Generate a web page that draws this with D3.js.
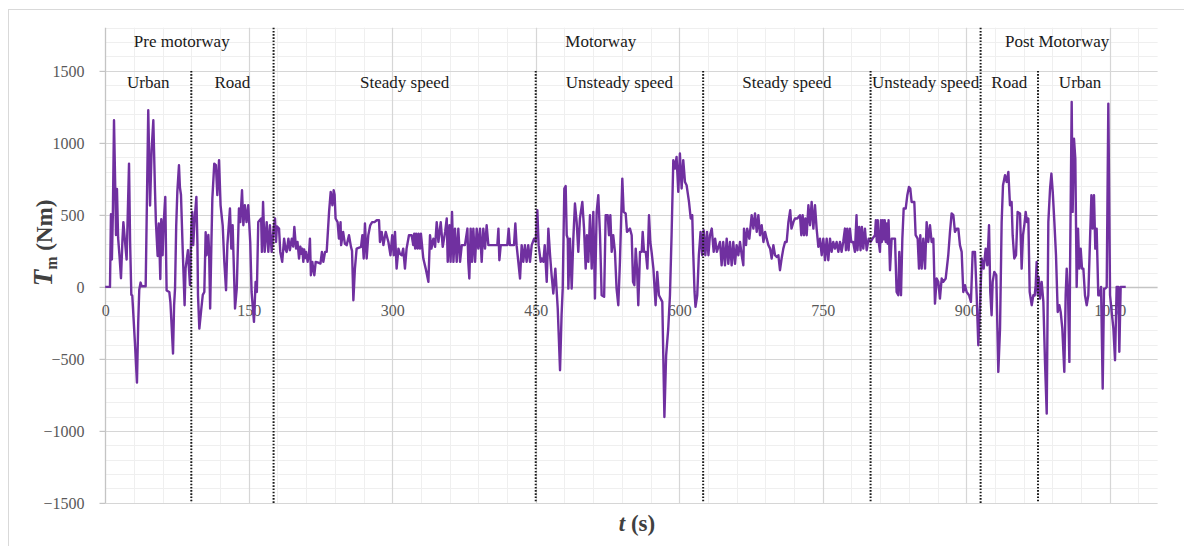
<!DOCTYPE html>
<html>
<head>
<meta charset="utf-8">
<script src="https://cdn.jsdelivr.net/npm/d3@7"></script>
<style>
  body { margin: 0; background: #fff; }
  svg { display: block; }
</style>
</head>
<body>
<svg id="chart" width="1184" height="546"></svg>
<script>
// Motor torque T_m (Nm) against time t (s), one [t, Tm] array per driving phase.
const urbanPre = [[0,0],[5,0],[6,505],[7,190],[8,505],[9.2,1157],[10.5,690],[11.3,360],[12.3,680],[13.5,340],[15,210],[16.5,60],[18,320],[19,450],[20.5,330],[22.4,190],[24.9,856],[26,320],[27.3,-55],[28.3,-60],[28.9,-130],[31,-380],[33.2,-665],[34.5,-250],[35.6,-20],[37,30],[38,5],[42.3,5],[45,1227],[46.9,565],[48.5,950],[50.3,1157],[52,680],[53,450],[54.8,215],[56,440],[57.6,55],[58.6,470],[60,220],[61,430],[62.8,625],[63.6,230],[64.2,-25],[67,-35],[68.2,-110],[70.9,-463],[72,-130],[73,-10],[74.2,420],[75.4,660],[77.1,845],[78.1,690],[79.2,640],[81,260],[83,-127],[84,127],[86.5,255],[87.5,130],[88.6,12],[90,400]];

const roadPre = [[91,520],[92,290],[93.3,450],[95.3,625],[96.4,300],[97,-58],[98.4,-290],[100.5,-150],[102,-55],[103.6,-35],[105,380],[106,220],[107.8,360],[108.6,250],[109.7,-150],[111,300],[112,613],[114,856],[115.7,845],[117.2,637],[119,880],[120.6,567],[122.8,428],[124.5,174],[126.3,-23],[127.7,290],[130.4,544],[131.8,266],[133.2,428],[135.7,-150],[137.5,-12],[139.8,544],[141.2,450],[143,671],[144.4,428],[146,567],[147.7,450],[149.5,567],[151.6,312],[153,-35],[155.5,-243],[157.2,35],[158.5,-35],[160,450],[163,475],[163.8,243],[165,590],[166.7,243],[168.8,450],[170.5,243],[172.2,428],[174,243],[176,405]];

const steadyA = [[177.5,475],[178.5,312],[179.5,420],[181.7,405],[183,243],[185,174],[187,335],[188.5,260],[189.7,243],[191.5,335],[193,255],[195,335],[196.5,280],[197.7,417],[199.5,266],[201,312],[202.6,197],[204,280],[205,230],[206,266],[207.1,174],[208,260],[209,200],[210,243],[211.6,174],[213,230],[214,335],[215,81],[216.5,174],[217.5,120],[218.6,81],[220,174],[222,170],[225,162],[226.5,243],[228,174],[229.8,243],[231.5,243],[234,521],[235.7,660],[237.5,567],[238.8,671],[239.8,640],[240.8,475],[242.9,450],[244.3,335],[246,450],[246.6,290],[248.7,382],[250.5,300],[252.4,290],[254.8,359],[256.9,278],[258,250],[259.4,-93],[261,127],[262.8,266],[267.4,278],[268.8,359],[270.2,197],[271.5,440],[273.3,197],[275,359],[277,428],[279,450],[281.5,450],[283.8,463],[286.2,463],[287.2,312],[289,382],[290.8,290],[293.2,382],[296,312],[298.2,220],[300,359],[301.6,220],[302.9,382],[304.6,127],[306.5,266],[308,230],[310,220],[311.5,266],[313.3,127],[315,266],[317.5,359],[320.3,359],[322,290],[323,370],[324,266],[325,370],[326.5,266],[327.5,370],[329,266],[330,370],[331,300],[332.5,197],[335,127],[337.8,35],[339.5,359],[341,266],[343,335],[344.8,278],[346.5,450],[348.3,312],[350.7,450],[352.8,278],[355.3,382],[357,475],[358,174],[359.8,428],[361,174],[362.5,521],[364,174],[365.6,405],[367.4,174],[369.1,405],[370.9,174],[372.7,290],[376,290],[378.6,405],[379.5,174],[380.6,58],[382,405],[383.4,174],[384.8,405],[386.6,174],[388.3,405],[390,266],[391.8,405],[393.5,174],[395.2,405],[397,266],[398.7,428],[400.5,290],[409.9,290],[411,405],[412,185],[413.4,290],[420.3,290],[421.7,405],[423,290],[427.3,290],[428.7,440],[430,290],[431.8,174],[433.6,58],[435.3,290],[437,174],[438.7,290],[440.5,174],[442.2,290],[444,174],[445.8,290],[448.3,335],[450,312]];

const unsteadyA = [[451.7,532],[453,290],[455.2,174],[456.5,197],[458,174],[459.4,290],[461.5,35],[463.2,405],[465,220],[466.6,81],[468.4,-46],[470.5,127],[473,-150],[475.4,-579],[477,-197],[478.2,-12],[479.9,683],[481.3,700],[482.4,359],[483.5,335],[484.1,-12],[485.8,335],[487.6,-12],[489.3,335],[491,579],[492.8,450],[494.5,243],[496.2,475],[498.7,590],[500.5,405],[502.2,127],[503.5,359],[505,174],[506.7,498],[508.5,127],[510.2,521],[511.9,-81],[513.7,521],[515.4,637],[517.2,359],[518.9,-58],[521.5,-69],[523.1,498],[525.2,498],[526.6,359],[528,498],[529.4,243],[531,359],[532.8,243],[534.5,-12],[536.3,-127],[538,174],[540.5,752],[541.9,521],[544,510],[545.4,382],[548.5,405],[550.3,359],[551.7,35],[553.1,12],[554.5,266],[555.9,127],[557.2,-127],[559,243],[560.8,243],[561.8,382],[563.2,243],[565,243],[566.7,127],[568.4,498],[569.8,312],[571.1,243],[573,127],[575.3,-127],[577,104],[578.8,-58],[582.3,-104],[584.5,-903],[586.3,-475],[588.5,-290],[590.3,-58],[592,359],[593.8,880],[595.5,822],[597.2,903],[599,660],[600.7,926],[602.5,683],[604.2,880],[606,729],[607.7,706],[610.2,590],[612,475],[613.6,498],[614.6,243],[616,-35],[617,-139],[618.8,-58],[620.5,220],[622.3,382],[624,220],[625.5,394]];

const steadyB = [[627.3,220],[629,382],[630.5,220],[632.1,359],[634,405],[636,243],[637.5,335],[639.3,243],[642.6,312],[644.3,150],[646,312],[647.8,150],[649.6,335],[651.3,160],[653,312],[654.8,150],[656.5,312],[658.3,160],[660,290],[661.8,220],[663.5,312],[665.3,220],[667,150],[667.7,405],[669.8,290],[671,405],[673.3,335],[675.7,498],[677.5,405],[679.2,510],[681,382],[682.7,498],[684.4,359],[686.2,428],[688,312],[689.7,382],[691.4,335],[693.2,290],[695,266],[696.6,197],[698.4,290],[700.1,220],[701.9,208],[703.6,220],[705.3,116],[707,197],[708.8,266],[710.6,312],[712.3,312],[714.1,450],[716,532],[717.3,405],[719.3,450],[721,475],[723.4,475],[726.2,498],[727.6,359],[729,498],[730.4,359],[731.8,475],[733.2,359],[735,567],[736.7,428],[738.4,590],[740.2,405],[741.9,567],[743.6,405],[745.4,278],[747.1,335],[748.9,220],[750.6,335],[752.4,185],[754.1,335],[755.8,185],[757.6,335],[759.3,243],[761,312],[762.8,266],[764.5,312],[766.3,243],[768,312],[769.7,243],[771.4,312],[773.2,405],[774.2,255],[775.6,405],[777,255],[778.4,405],[779.8,312],[781.8,312],[783.6,243],[785.3,498],[786.3,255],[788.1,417],[789.5,255],[790.9,417],[792.4,266],[794.1,405],[795.9,255],[798,335],[800,312]];

const unsteadyB = [[802,335],[804.6,359],[805.5,463],[806.5,312],[807.5,463],[808.5,312],[809.8,243],[810.8,463],[811.8,312],[812.8,463],[813.8,330],[814.8,463],[815.8,312],[816.8,440],[817.8,300],[818.8,463],[819.5,300],[820.3,116],[822,335],[825.5,335],[827.2,-35],[829,-58],[830,243],[831.8,-58],[833.2,335],[834.6,544],[836.7,544],[838.4,637],[840.1,694],[841.5,683],[842.9,590],[845.7,590],[847.1,359],[849.2,335],[850.6,127],[852,359],[853.4,127],[855.1,335],[856.9,127],[858.6,450],[860.3,312],[862.1,428],[863.8,312],[865.6,335],[867.3,-116],[869.1,58],[870.8,35],[872.5,-81],[874.3,58],[876,35],[878.5,58],[881.2,220],[883,382],[884.7,510],[886.5,498],[888.2,382],[890,405],[891.7,405],[893.4,290],[895.2,243],[896.9,-35],[898.7,12],[900.4,-35],[902.9,-58],[904.9,-104],[906.7,243],[909.1,243],[910.9,-58],[912.6,-405],[914.3,-150]];

const roadPost = [[916.1,197],[918.2,127],[920.3,266],[922,150],[923.8,428],[925.1,-35],[926.5,-197],[927.6,35],[929.3,104],[931.4,81],[933.5,-590],[935.3,-290],[937,450],[938.4,706],[940.5,775],[942.2,729],[944,799],[945.7,567],[947.4,590],[948.5,359],[950.2,197],[952,220],[953.7,521],[956.2,510],[957.9,127],[959.3,359],[960.7,428],[962.1,521],[963.5,450],[964.9,475],[966.3,-35],[968.4,-127],[970.1,-58],[971.5,-60],[972.6,12],[973.6,174],[974.7,-58]];

const urbanPost = [[975.7,69],[977.1,-81],[978.8,35],[980.6,-104],[982.3,-521],[984.1,-880],[985.8,450],[987.6,683],[989,787],[990.4,660],[992.1,450],[993.8,220],[995.6,-174],[997.3,-127],[998.7,-174],[1000.4,-290],[1002.5,-590],[1003.9,-58],[1005,127],[1006.4,-58],[1007.8,-521],[1008.5,127],[1010.2,1285],[1011.2,521],[1012.6,1030],[1014,891],[1015.4,0],[1016.8,405],[1018.2,127],[1019.6,266],[1021,127],[1022.4,127],[1024.1,-58],[1025.9,-127],[1027.6,-58],[1029.4,335],[1030.8,637],[1032.2,405],[1033.5,637],[1034.9,266],[1036.3,405],[1038,-58],[1039.8,-58],[1040.9,0],[1042.6,-706],[1044,-12],[1045.4,-12],[1046.8,0],[1048.5,1273],[1050.3,-58],[1052,-174],[1053.8,-290],[1055.5,-509],[1057.2,0],[1059,0],[1060,-451],[1061.4,0],[1066.7,0]];

// Phase boundaries (s) and the dividers that run the full plot height.
const phaseEdges = [0, 90, 176, 450, 625, 800, 915, 975, 1063];
const fullHeightEdges = [176, 915];
const phaseNames = ["Urban", "Road", "Steady speed", "Unsteady speed", "Steady speed", "Unsteady speed", "Road", "Urban"];
const sectionNames = ["Pre motorway", "Motorway", "Post Motorway"];
const sectionLabelT = [80, 518, 995];

const xTicks = [0, 150, 300, 450, 600, 750, 900, 1050];
const yTicks = [-1500, -1000, -500, 0, 500, 1000, 1500];

const series = [].concat(urbanPre, roadPre, steadyA, unsteadyA, steadyB, unsteadyB, roadPost, urbanPost);

const svg = d3.select("#chart");
const serif = "'Liberation Serif', 'Times New Roman', serif";

const x = d3.scaleLinear().domain([0, 1100]).range([105.2, 1157.6]);
const y = d3.scaleLinear().domain([-1500, 1800]).range([502.9, 27.7]);
const [x0, x1] = x.range();
const [yBot, yTop] = y.range();

// outer frame
svg.append("rect")
  .attr("x", 8.5).attr("y", 9.5)
  .attr("width", 1300).attr("height", 700)
  .attr("fill", "none").attr("stroke", "#d9d9d9").attr("stroke-width", 1);

const grid = svg.append("g");

// minor grid
grid.selectAll("line.hmin")
  .data(d3.range(-1400, 1801, 100).filter(v => v % 500 !== 0))
  .join("line")
  .attr("x1", x0).attr("x2", x1)
  .attr("y1", d => Math.round(y(d)) + 0.5).attr("y2", d => Math.round(y(d)) + 0.5)
  .attr("stroke", "#efefef").attr("stroke-width", 1);

grid.selectAll("line.vmin")
  .data(d3.range(30, 1100, 30).filter(v => v % 150 !== 0))
  .join("line")
  .attr("x1", d => Math.round(x(d)) + 0.5).attr("x2", d => Math.round(x(d)) + 0.5)
  .attr("y1", yTop).attr("y2", yBot)
  .attr("stroke", "#efefef").attr("stroke-width", 1);

// major grid
grid.selectAll("line.vmaj")
  .data(xTicks.filter(v => v > 0))
  .join("line")
  .attr("x1", d => Math.round(x(d)) + 0.5).attr("x2", d => Math.round(x(d)) + 0.5)
  .attr("y1", yTop).attr("y2", yBot)
  .attr("stroke", "#d6d6d6").attr("stroke-width", 1.2);

grid.selectAll("line.hmaj")
  .data(yTicks.filter(v => v !== 0))
  .join("line")
  .attr("x1", x0).attr("x2", x1)
  .attr("y1", d => Math.round(y(d)) + 0.5).attr("y2", d => Math.round(y(d)) + 0.5)
  .attr("stroke", "#d6d6d6").attr("stroke-width", 1.2);

// axis lines
grid.append("line")
  .attr("x1", Math.round(x0) + 0.5).attr("x2", Math.round(x0) + 0.5)
  .attr("y1", yTop).attr("y2", yBot)
  .attr("stroke", "#c4c4c4").attr("stroke-width", 1.3);
grid.append("line")
  .attr("x1", x0).attr("x2", x1)
  .attr("y1", Math.round(y(0)) + 0.5).attr("y2", Math.round(y(0)) + 0.5)
  .attr("stroke", "#c4c4c4").attr("stroke-width", 1.3);

// plain integers with a true minus sign, no thousands separator
const fmt = d => (d < 0 ? "\u2212" : "") + Math.abs(d);

// y axis ticks and labels
const yAxis = svg.append("g")
  .attr("transform", `translate(${Math.round(x0) + 0.5},0)`)
  .call(d3.axisLeft(y).tickValues(yTicks).tickSize(6).tickPadding(15).tickFormat(fmt));
yAxis.select(".domain").remove();
yAxis.selectAll(".tick line").attr("stroke", "#c4c4c4").attr("stroke-width", 1.2);
yAxis.selectAll(".tick text")
  .attr("fill", "#595959").attr("font-family", serif).attr("font-size", 16);

// x tick labels sit below the zero line
const xAxis = svg.append("g")
  .attr("transform", `translate(0,${y(0)})`)
  .call(d3.axisBottom(x).tickValues(xTicks).tickSize(0).tickPadding(18).tickFormat(fmt));
xAxis.select(".domain").remove();
xAxis.selectAll(".tick text")
  .attr("fill", "#595959").attr("font-family", serif).attr("font-size", 16);

// torque trace
const line = d3.line().x(d => x(d[0])).y(d => y(d[1]));
svg.append("path")
  .datum(series)
  .attr("d", line)
  .attr("fill", "none")
  .attr("stroke", "#7030a0")
  .attr("stroke-width", 2.4)
  .attr("stroke-linejoin", "round");

// phase dividers
svg.selectAll("line.divider")
  .data(phaseEdges.slice(1, -1))
  .join("line")
  .attr("x1", d => x(d)).attr("x2", d => x(d))
  .attr("y1", d => fullHeightEdges.includes(d) ? yTop : y(1500))
  .attr("y2", yBot)
  .attr("stroke", "#1a1a1a")
  .attr("stroke-width", 2)
  .attr("stroke-dasharray", "1.6,1.6");

// phase labels
svg.selectAll("text.phase")
  .data(phaseNames)
  .join("text")
  .attr("x", (d, i) => x((phaseEdges[i] + phaseEdges[i + 1]) / 2))
  .attr("y", 88)
  .attr("text-anchor", "middle")
  .attr("font-family", serif).attr("font-size", 17)
  .attr("fill", "#1a1a1a")
  .text(d => d);

svg.selectAll("text.section")
  .data(sectionNames)
  .join("text")
  .attr("x", (d, i) => x(sectionLabelT[i]))
  .attr("y", 47)
  .attr("text-anchor", "middle")
  .attr("font-family", serif).attr("font-size", 17)
  .attr("fill", "#1a1a1a")
  .text(d => d);

// axis titles
const xTitle = svg.append("text")
  .attr("x", 637).attr("y", 531)
  .attr("text-anchor", "middle")
  .attr("font-family", serif).attr("font-size", 23).attr("font-weight", "bold")
  .attr("fill", "#404040");
xTitle.append("tspan").attr("font-style", "italic").text("t");
xTitle.append("tspan").text(" (s)");

const yTitle = svg.append("text")
  .attr("transform", "translate(52,243) rotate(-90)")
  .attr("text-anchor", "middle")
  .attr("font-family", serif).attr("font-weight", "bold")
  .attr("fill", "#404040");
yTitle.append("tspan").attr("font-style", "italic").attr("font-size", 27).text("T");
yTitle.append("tspan").attr("font-size", 16).attr("dy", 5).text("m");
yTitle.append("tspan").attr("font-size", 23).attr("dy", -5).text(" (Nm)");
</script>
</body>
</html>
